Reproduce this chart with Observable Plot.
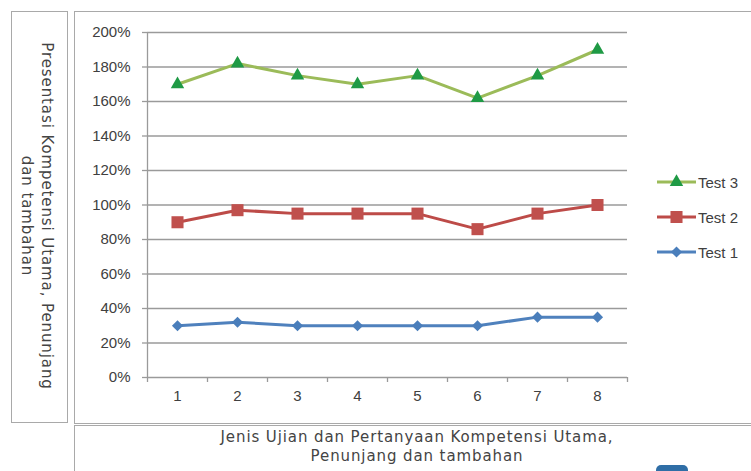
<!DOCTYPE html>
<html><head><meta charset="utf-8">
<script src="https://cdn.jsdelivr.net/npm/d3@7"></script>
<script src="https://cdn.jsdelivr.net/npm/@observablehq/plot@0.6"></script>
<style>
body{margin:0;background:#fff;}
#wrap{position:relative;width:751px;height:471px;overflow:hidden;background:#fff;}
.box{position:absolute;border:1px solid #a9a9a9;box-sizing:border-box;}
#ytitle{position:absolute;left:37px;top:216px;width:440px;transform:translate(-50%,-50%) rotate(90deg);text-align:center;font-family:"DejaVu Sans";font-size:15px;letter-spacing:0.9px;line-height:20px;color:#444;}
#xtitle{position:absolute;left:417px;top:428px;width:520px;transform:translateX(-50%);text-align:center;font-family:"DejaVu Sans";font-size:15px;letter-spacing:0.9px;line-height:19px;color:#444;}
#chart{position:absolute;left:0;top:0;}
#legend{position:absolute;left:657px;top:172px;font-family:"Liberation Sans";font-size:15px;color:#404040;}
.item{display:flex;align-items:center;height:20px;margin-bottom:15px;}
.item svg{margin-right:2px;}
#blob{position:absolute;left:656px;top:465px;width:32px;height:14px;border-radius:5px;background:#2f6ea6;}
</style></head><body>
<div id="wrap">
  <div class="box" style="left:11px;top:11px;width:57px;height:412px"></div>
  <div class="box" style="left:74px;top:11px;width:700px;height:413px"></div>
  <div class="box" style="left:74px;top:425px;width:700px;height:60px"></div>
  <div id="ytitle">Presentasi Kompetensi Utama, Penunjang<br>dan tambahan</div>
  <div id="xtitle">Jenis Ujian dan Pertanyaan Kompetensi Utama,<br>Penunjang dan tambahan</div>
  <div id="chart"></div>
  <div id="legend"></div>
  <div id="blob"></div>
</div>
<script>
const categories = [1, 2, 3, 4, 5, 6, 7, 8];
const test1 = [30, 32, 30, 30, 30, 30, 35, 35];
const test2 = [90, 97, 95, 95, 95, 86, 95, 100];
const test3 = [170, 182, 175, 170, 175, 162, 175, 190];
const yTicks = [0, 20, 40, 60, 80, 100, 120, 140, 160, 180, 200];
const bandEdges = [0.5, 1.5, 2.5, 3.5, 4.5, 5.5, 6.5, 7.5, 8.5];

const series = [
  {name: "Test 3", values: test3, line: "#9bbb59", fill: "#1f9a45", symbol: "triangle", r: 5},
  {name: "Test 2", values: test2, line: "#bd4b48", fill: "#c0504d", symbol: "square", r: 6.8},
  {name: "Test 1", values: test1, line: "#4f81bd", fill: "#4a7ebb", symbol: "diamond2", r: 5}
];
const grid = "#9a9a9a";

const marks = [
  Plot.ruleY(yTicks, {stroke: grid, strokeWidth: 1.3}),
  Plot.ruleX([0.5], {stroke: grid, strokeWidth: 1.3}),
  Plot.axisY({ticks: yTicks, tickFormat: d => d + "%", tickSize: 5, tickPadding: 12, stroke: grid, strokeWidth: 1.3, label: null}),
  Plot.axisX({ticks: bandEdges, tickFormat: () => "", tickSize: 5, stroke: grid, strokeWidth: 1.3, label: null}),
  Plot.axisX({ticks: categories, tickFormat: d => String(d), tickSize: 0, tickPadding: 13, label: null})
];
for (const s of series) {
  const rows = s.values.map((v, i) => ({x: categories[i], y: v}));
  marks.push(Plot.line(rows, {x: "x", y: "y", stroke: s.line, strokeWidth: 3}));
  marks.push(Plot.dot(rows, {x: "x", y: "y", symbol: () => s.symbol, r: s.r, fill: s.fill, stroke: "none"}));
}

const chart = Plot.plot({
  width: 751, height: 471,
  marginLeft: 147, marginRight: 124, marginTop: 32, marginBottom: 94,
  x: {type: "linear", domain: [0.5, 8.5]},
  y: {domain: [0, 200]},
  symbol: {type: "identity"},
  style: {fontFamily: "Liberation Sans", fontSize: "15px", color: "#404040", background: "transparent", overflow: "visible"},
  marks
});
document.getElementById("chart").appendChild(chart);

const legend = document.getElementById("legend");
for (const s of series) {
  const item = document.createElement("div");
  item.className = "item";
  const sym = d3.symbol(s.symbol === "triangle" ? d3.symbolTriangle : s.symbol === "square" ? d3.symbolSquare : d3.symbolDiamond2, s.r * s.r * Math.PI)();
  item.innerHTML = `<svg width="39" height="20"><line x1="0" x2="39" y1="10" y2="10" stroke="${s.line}" stroke-width="3"/><path transform="translate(19.5,10)" d="${sym}" fill="${s.fill}"/></svg><span>${s.name}</span>`;
  legend.appendChild(item);
}
</script>
</body></html>
